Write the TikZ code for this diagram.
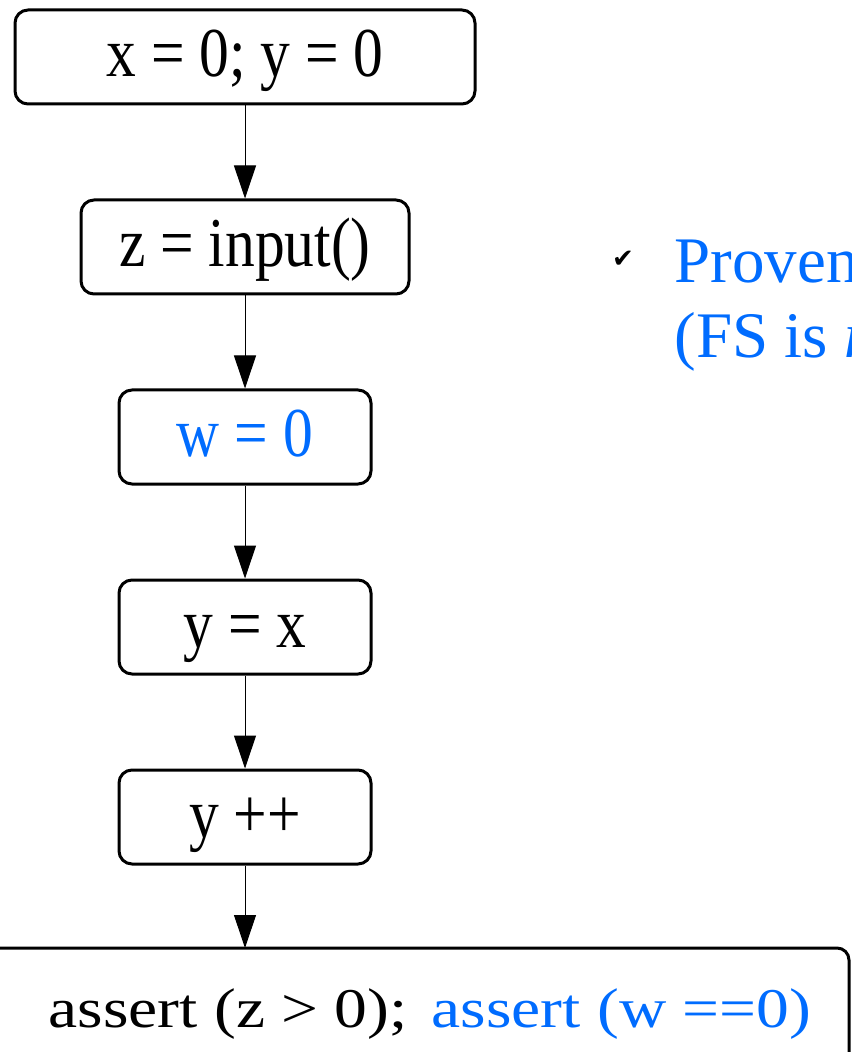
\documentclass[tikz,border=0pt]{standalone}
\usepackage{fontspec}
\setmainfont{Liberation Serif}
\newfontfamily\boxfont[FakeStretch=0.85]{Liberation Serif}
\newfontfamily\assertfont[FakeStretch=1.17]{Liberation Serif}
\newfontfamily\symbolfont{DejaVu Sans}
\usetikzlibrary{arrows.meta, positioning}
\definecolor{provenblue}{RGB}{0,108,255}

\begin{document}
\begin{tikzpicture}[
    x=0.5pt, y=-0.5pt,
    block/.style={rectangle, draw, rounded corners=6.5pt, line width=1.5pt, minimum width=126pt, minimum height=47pt, inner sep=0pt, text height=22pt, text depth=2pt, font=\boxfont\fontsize{35}{40}\selectfont},
    flow/.style={-{Triangle[length=16.5pt, width=11pt]}, line width=0.5pt},
    note/.style={font=\fontsize{32.5}{37.5}\selectfont, text=provenblue, align=left, inner sep=0pt}
]
    \useasboundingbox (0,0) rectangle (851,1052);

    % Statements
    \node[block, minimum width=230pt] (init) at (245,57) {x = 0; y = 0};
    \node[block, minimum width=164pt, below=46.5pt of init] (input) {z = input()};
    \node[block, below=46.5pt of input, text=provenblue] (wzero) {w = 0};
    \node[block, below=46.5pt of wzero] (ycopy) {y = x};
    \node[block, below=46.5pt of ycopy] (yinc) {y ++};

    % Exit block, cut off by the page
    \draw[line width=1.5pt, rounded corners=6pt] (-20,948) -- (849,948) -- (849,1120);
    \coordinate (exittop) at (245,948);
    \node[anchor=base, font=\assertfont\fontsize{28}{32}\selectfont] (asserts) at (430,1027)
        {assert (z > 0);\hspace{12pt}\textcolor{provenblue}{assert (w ==0)}};

    % Arrows
    \draw[flow] (init) -- (input);
    \draw[flow] (input) -- (wzero);
    \draw[flow] (wzero) -- (ycopy);
    \draw[flow] (ycopy) -- (yinc);
    \draw[flow] (yinc) -- (exittop);

    % Side note
    \node[note, anchor=base west] (proven) at (674,358) {Proven\\(FS is \textit{n}};
    \node[anchor=base, font=\symbolfont\fontsize{13}{13}\selectfont] (tick) at (623,268) {✔};
\end{tikzpicture}
\end{document}
